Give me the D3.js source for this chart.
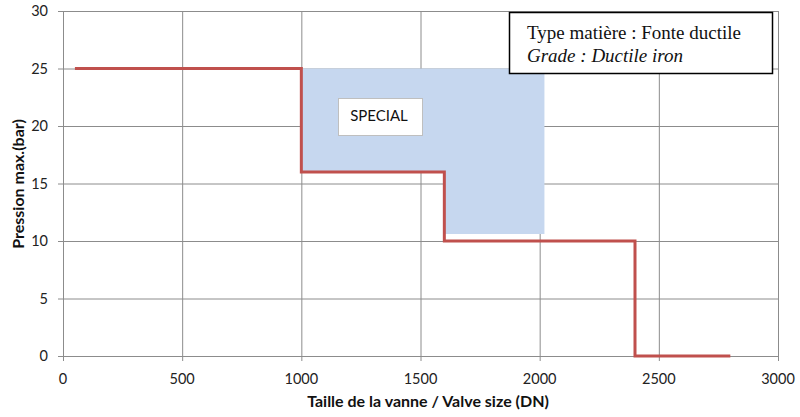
<!DOCTYPE html>
<html><head><meta charset="utf-8">
<script src="https://cdn.jsdelivr.net/npm/d3@7"></script>
<style>body{margin:0;background:#fff}svg{display:block}</style>
</head><body>
<svg id="c" width="800" height="417"></svg>
<script>
// Data
const xTicks = [0, 500, 1000, 1500, 2000, 2500, 3000];
const yTicks = [0, 5, 10, 15, 20, 25, 30];
const lineDN = [50, 1000, 1000, 1600, 1600, 2400, 2400, 2800];
const linePressure = [25, 25, 16, 16, 10, 10, 0, 0];
const specialDN = [1000, 2020, 2020, 1600, 1600, 1000];
const specialPressure = [25, 25, 10.6, 10.6, 16, 16];
const xLabel = "Taille de la vanne / Valve size (DN)";
const yLabel = "Pression max.(bar)";
const legendLines = ["Type matière : Fonte ductile", "Grade : Ductile iron"];
const specialLabel = "SPECIAL";

const svg = d3.select("#c");
const L = 63, R = 778, T = 11, B = 356;
const x = d3.scaleLinear().domain([0, 3000]).range([L, R]);
const y = d3.scaleLinear().domain([0, 30]).range([B, T]);
const grid = "#8c8c8c";
const font = "Lato, 'Open Sans', sans-serif";

// gridlines
svg.append("g").selectAll("line").data(xTicks).join("line")
  .attr("x1", d => x(d) + 0.5).attr("x2", d => x(d) + 0.5)
  .attr("y1", T).attr("y2", B + 5)
  .attr("stroke", grid).attr("stroke-width", 1);
svg.append("g").selectAll("line").data(yTicks).join("line")
  .attr("x1", L - 5).attr("x2", R)
  .attr("y1", d => y(d) + 0.5).attr("y2", d => y(d) + 0.5)
  .attr("stroke", grid).attr("stroke-width", 1);

// special area
const sp = specialDN.map((d, i) => [x(d), y(specialPressure[i])]);
svg.append("polygon").attr("points", sp.map(p => p.join(",")).join(" "))
  .attr("fill", "#c6d7ef");

// tick labels
svg.append("g").selectAll("text").data(xTicks).join("text")
  .attr("x", d => x(d)).attr("y", 384).attr("text-anchor", "middle")
  .attr("font-family", font).attr("font-size", 14.5).attr("fill", "#222")
  .text(d => d);
svg.append("g").selectAll("text").data(yTicks).join("text")
  .attr("x", 48).attr("y", d => y(d) + 5).attr("text-anchor", "end")
  .attr("font-family", font).attr("font-size", 14.5).attr("fill", "#222")
  .text(d => d);

// axis titles
svg.append("text").attr("x", 428).attr("y", 407).attr("text-anchor", "middle")
  .attr("font-family", font).attr("font-weight", "bold").attr("font-size", 16)
  .attr("fill", "#111").text(xLabel);
svg.append("text").attr("transform", "translate(24,184) rotate(-90)")
  .attr("text-anchor", "middle")
  .attr("font-family", font).attr("font-weight", "bold").attr("font-size", 16)
  .attr("fill", "#111").text(yLabel);

// red step line
const pts = lineDN.map((d, i) => [x(d), y(linePressure[i])]);
svg.append("path").attr("d", d3.line()(pts))
  .attr("fill", "none").attr("stroke", "#c0504d").attr("stroke-width", 3)
  .attr("stroke-linejoin", "miter");

// SPECIAL label box
svg.append("rect").attr("x", 338.5).attr("y", 98.5).attr("width", 84).attr("height", 37)
  .attr("fill", "#fff").attr("stroke", "#bfbfbf").attr("stroke-width", 1);
svg.append("text").attr("x", 379).attr("y", 121).attr("text-anchor", "middle")
  .attr("font-family", font).attr("font-size", 15).attr("fill", "#111").text(specialLabel);

// legend box
svg.append("rect").attr("x", 509.5).attr("y", 12.5).attr("width", 263).attr("height", 61)
  .attr("fill", "#fff").attr("stroke", "#000").attr("stroke-width", 1.5);
svg.append("text").attr("x", 527).attr("y", 39)
  .attr("font-family", "'Liberation Serif', serif").attr("font-size", 19).attr("fill", "#111")
  .text(legendLines[0]);
svg.append("text").attr("x", 527).attr("y", 62)
  .attr("font-family", "'Liberation Serif', serif").attr("font-size", 19).attr("font-style", "italic")
  .attr("fill", "#111").text(legendLines[1]);
</script>
</body></html>
